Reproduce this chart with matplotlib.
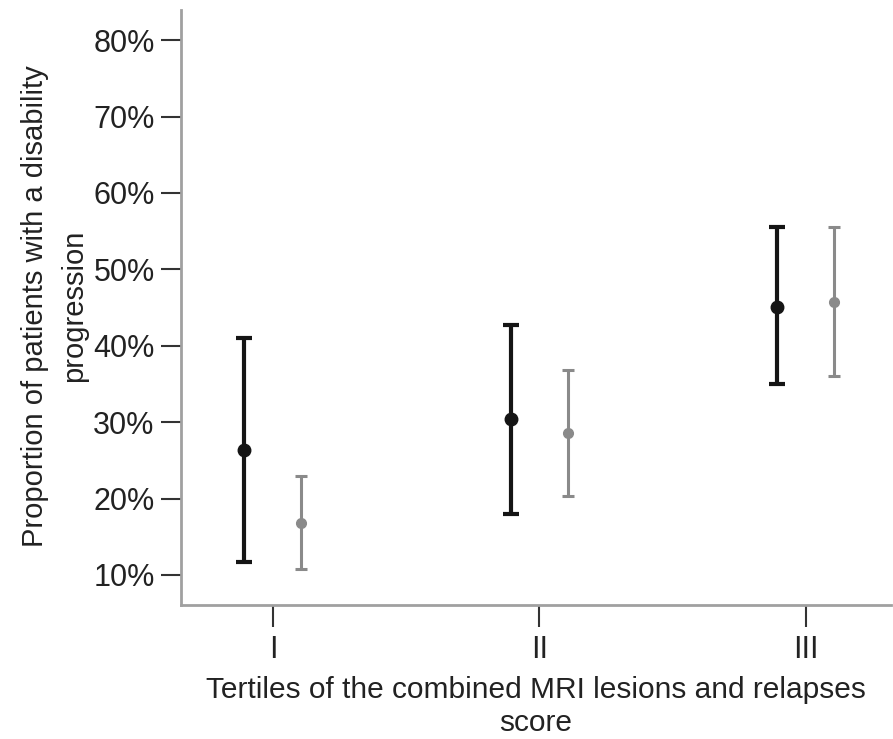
import matplotlib
matplotlib.use('Agg')
import matplotlib.pyplot as plt
from matplotlib.ticker import FuncFormatter

plt.rcParams['font.family'] = ['Liberation Sans', 'DejaVu Sans']

# Tertiles and proportions (%) with 95% CI bounds
tertiles = ['I', 'II', 'III']
black_mean = [26.4, 30.4, 45.1]
black_low = [11.7, 18.0, 35.0]
black_high = [41.0, 42.7, 55.5]
grey_mean = [16.8, 28.6, 45.7]
grey_low = [10.8, 20.3, 36.0]
grey_high = [23.0, 36.8, 55.5]

W, H = 893, 739
fig = plt.figure(figsize=(W / 100, H / 100), dpi=100)
ax = fig.add_axes([181 / W, (H - 605) / H, (891 - 181) / W, (605 - 10) / H])

pos = [1, 2, 3]
off = 0.107

def draw(xs, mean, low, high, color, lw, cap, ms):
    yerr = [[m - l for m, l in zip(mean, low)], [h - m for m, h in zip(mean, high)]]
    ax.errorbar(xs, mean, yerr=yerr, fmt='o', color=color, ecolor=color,
                elinewidth=lw, capsize=cap, capthick=lw, markersize=ms)

draw([p - off for p in pos], black_mean, black_low, black_high, '#151515', 3.0, 5.5, 9)
draw([p + off for p in pos], grey_mean, grey_low, grey_high, '#8a8a8a', 2.2, 4.5, 7)

ax.set_xlim(0.655, 3.32)
ax.set_ylim(6.07, 83.95)
ax.set_xticks(pos)
ax.set_xticklabels(tertiles)
ax.set_yticks([10, 20, 30, 40, 50, 60, 70, 80])
ax.yaxis.set_major_formatter(FuncFormatter(lambda v, p: '%d%%' % v))

for s in ['top', 'right']:
    ax.spines[s].set_visible(False)
for s in ['left', 'bottom']:
    ax.spines[s].set_color('#a0a0a0')
    ax.spines[s].set_linewidth(2.0)

ax.tick_params(axis='y', length=14.5, width=1.5, color='#333333', labelsize=22,
               labelcolor='#222222', pad=4.5)
ax.tick_params(axis='x', length=16, width=1.5, color='#333333', labelsize=22,
               labelcolor='#222222', pad=5.5)

# axis titles placed in figure pixels
fig.text(536 / W, 1 - 731 / H, 'Tertiles of the combined MRI lesions and relapses\nscore',
         fontsize=21.5, color='#222222', ha='center', va='baseline',
         multialignment='center', linespacing=1.25)
fig.text(55 / W, 1 - 306 / H, 'Proportion of patients with a disability\nprogression',
         fontsize=21, color='#222222', ha='center', va='center', rotation=90,
         multialignment='center', linespacing=1.5)

fig.savefig('out.png', dpi=100)
